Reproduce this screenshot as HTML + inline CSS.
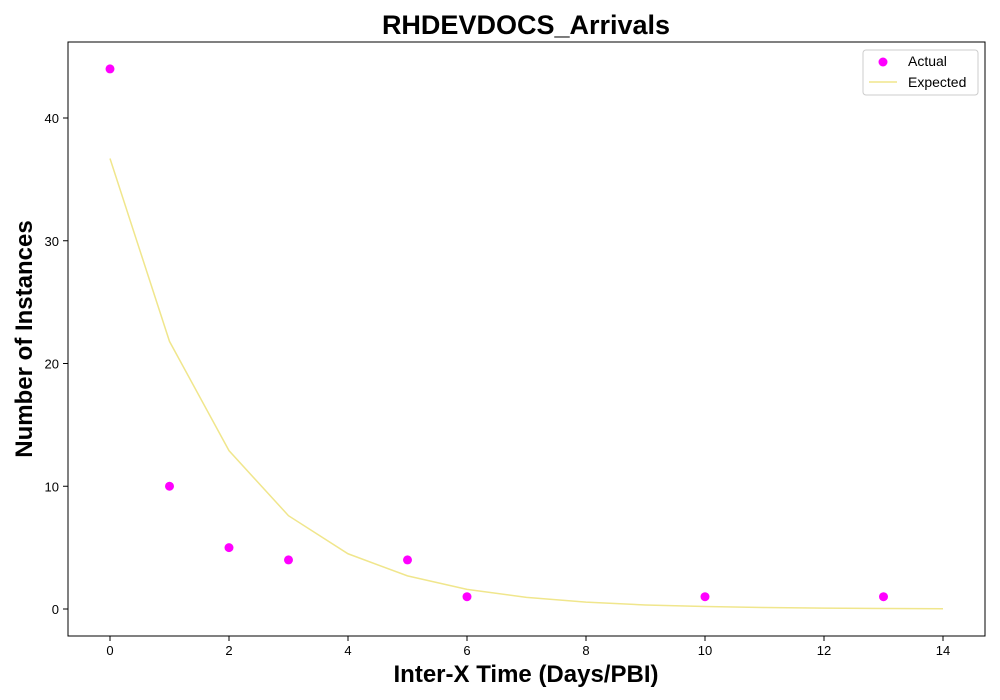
<!DOCTYPE html>
<html><head><meta charset="utf-8"><style>
body{margin:0;background:#fff;}
svg{display:block;font-family:"Liberation Sans","DejaVu Sans",sans-serif;}
</style></head><body>
<svg id="chart" width="1000" height="700"></svg>
<script>
const actualX=[0,1,2,3,5,6,10,13];
const actualY=[44,10,5,4,4,1,1,1];
const expectedX=[0,1,2,3,4,5,6,7,8,9,10,11,12,13,14];
const expectedY=[36.7,21.8,12.9,7.6,4.5,2.7,1.6,0.95,0.56,0.33,0.2,0.12,0.07,0.04,0.02];
const xTicks=[0,2,4,6,8,10,12,14];
const yTicks=[0,10,20,30,40];
const L=68,R=985,T=42,B=636;
const sx=v=>110+v*(943-110)/14;
const sy=v=>609-v*(609-118)/40;
const NS="http://www.w3.org/2000/svg";
const svg=document.getElementById('chart');
function mk(tag,attrs,parent){const e=document.createElementNS(NS,tag);for(const k in attrs)e.setAttribute(k,attrs[k]);(parent||svg).appendChild(e);return e;}
const frame=mk('rect',{x:L,y:T,width:R-L,height:B-T,fill:'none',stroke:'#000','stroke-width':1});


xTicks.forEach(t=>{
 mk('line',{x1:sx(t),x2:sx(t),y1:B,y2:B+5,stroke:'#000'});
 const tx=mk('text',{x:sx(t),y:B+19,'text-anchor':'middle','font-size':13});tx.textContent=t;
 
 
});
yTicks.forEach(t=>{
 mk('line',{x1:L-5,x2:L,y1:sy(t),y2:sy(t),stroke:'#000'});
 const tx=mk('text',{x:L-9,y:sy(t)+5,'text-anchor':'end','font-size':13});tx.textContent=t;
 
 
});
const line=mk('polyline',{points:expectedX.map((x,i)=>sx(x)+','+sy(expectedY[i])).join(' '),fill:'none',stroke:'#f0e68c','stroke-width':1.5});


actualX.forEach((x,i)=>{
 const c=mk('circle',{cx:sx(x),cy:sy(actualY[i]),r:4.5,fill:'#ff00ff'});
 
 
});
const title=mk('text',{x:526,y:34,'text-anchor':'middle','font-size':27,'font-weight':'bold'});title.textContent='RHDEVDOCS_Arrivals';


const xl=mk('text',{x:526,y:682,'text-anchor':'middle','font-size':24,'font-weight':'bold'});xl.textContent='Inter-X Time (Days/PBI)';


const yl=mk('text',{x:32,y:339,'text-anchor':'middle','font-size':24,'font-weight':'bold',transform:'rotate(-90 32 339)'});yl.textContent='Number of Instances';


const lg=mk('g',{});


mk('rect',{x:863,y:50,width:115,height:45,rx:3,fill:'#fff',stroke:'#ccc'},lg);
mk('circle',{cx:883,cy:62,r:4.5,fill:'#ff00ff'},lg);
const t1=mk('text',{x:908,y:66,'font-size':14},lg);t1.textContent='Actual';
mk('line',{x1:869,x2:897,y1:82,y2:82,stroke:'#f0e68c','stroke-width':1.5},lg);
const t2=mk('text',{x:908,y:87,'font-size':14},lg);t2.textContent='Expected';
</script>
</body></html>
